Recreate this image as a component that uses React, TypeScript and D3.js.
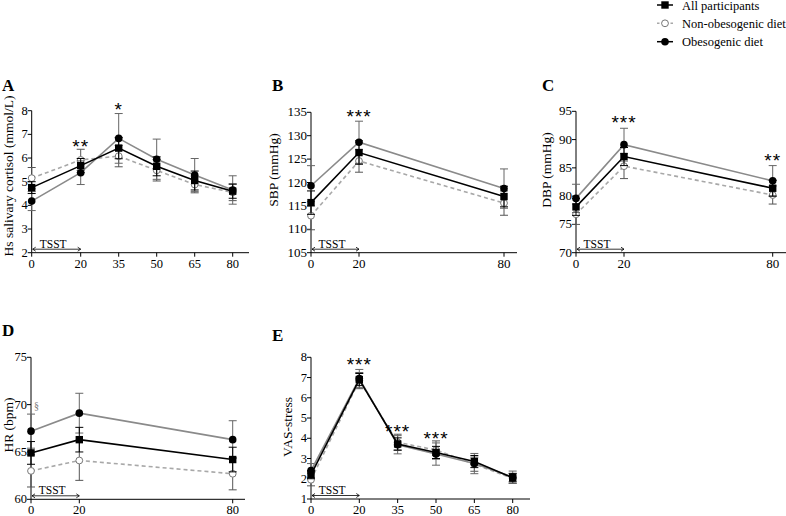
import React from "react";
import * as d3 from "d3";

// ---------- Data ----------
const timesA = [0, 20, 35, 50, 65, 80];
const timesB = [0, 20, 80];

const cortisolObeso = [4.18, 5.38, 6.83, 5.95, 5.28, 4.65];
const cortisolAll = [4.75, 5.68, 6.42, 5.65, 5.05, 4.6];
const cortisolNon = [5.15, 5.92, 6.08, 5.48, 4.88, 4.55];
const cortisolObesoErr = [0.4, 0.5, 1.05, 0.85, 0.7, 0.6];
const cortisolAllErr = [0.25, 0.3, 0.45, 0.4, 0.4, 0.3];
const cortisolNonErr = [0.45, 0.45, 0.45, 0.45, 0.35, 0.35];

const sbpObeso = [119.3, 128.6, 118.7];
const sbpAll = [115.7, 126.4, 117.0];
const sbpNon = [112.9, 124.6, 115.6];
const sbpObesoErr = [4.3, 4.5, 4.2];
const sbpAllErr = [2.5, 2.5, 2.2];
const sbpNonErr = [3.0, 2.4, 2.6];

const dbpObeso = [79.6, 89.1, 82.7];
const dbpAll = [78.1, 87.0, 81.4];
const dbpNon = [76.8, 85.3, 80.2];
const dbpObesoErr = [2.5, 2.9, 2.7];
const dbpAllErr = [1.5, 1.6, 1.4];
const dbpNonErr = [1.8, 2.2, 1.6];

const hrObeso = [67.2, 69.1, 66.3];
const hrAll = [64.9, 66.3, 64.2];
const hrNon = [63.0, 64.1, 62.7];
const hrObesoErr = [1.8, 2.1, 2.0];
const hrAllErr = [1.2, 1.3, 1.3];
const hrNonErr = [1.7, 2.1, 1.7];

const vasObeso = [2.4, 6.95, 3.68, 3.22, 2.75, 2.08];
const vasAll = [2.2, 6.9, 3.72, 3.3, 2.85, 2.05];
const vasNon = [1.95, 6.85, 3.8, 3.42, 2.72, 2.02];
const vasObesoErr = [0.35, 0.45, 0.45, 0.55, 0.5, 0.3];
const vasAllErr = [0.2, 0.3, 0.3, 0.3, 0.3, 0.2];
const vasNonErr = [0.3, 0.4, 0.4, 0.45, 0.35, 0.25];

const legendLabels = ["All participants", "Non-obesogenic diet", "Obesogenic diet"];

// ---------- Styles ----------
const SERIF = "'Liberation Serif', 'Times New Roman', serif";
const SANS = "'Liberation Sans', Arial, sans-serif";
const GREY = "#8a8a8a";
const LIGHT = "#a8a8a8";

type Series = { values: number[]; err: number[]; kind: "all" | "non" | "obeso" };
type Star = { t: number; y: number; text: string };

type PanelProps = {
  letter: string;
  letterX: number;
  letterY: number;
  times: number[];
  xRange: [number, number, number];
  axisEnd: number;
  yDomain: [number, number];
  yRange: [number, number];
  yTicks: number[];
  yLabel: string;
  yLabelX: number;
  yLabelY: number;
  series: Series[];
  stars: Star[];
  tickSize?: number;
  extra?: React.ReactNode;
};

function Marker({ kind, x, y }: { kind: Series["kind"]; x: number; y: number }) {
  if (kind === "all") return <rect x={x - 3.7} y={y - 3.7} width={7.4} height={7.4} fill="#000" />;
  if (kind === "obeso") return <circle cx={x} cy={y} r={3.8} fill="#000" />;
  return <circle cx={x} cy={y} r={3.4} fill="#fff" stroke="#777" strokeWidth={1} />;
}

function lineStyle(kind: Series["kind"]) {
  if (kind === "all") return { stroke: "#000", strokeWidth: 1.6, dash: undefined as string | undefined };
  if (kind === "obeso") return { stroke: GREY, strokeWidth: 1.6, dash: undefined as string | undefined };
  return { stroke: LIGHT, strokeWidth: 1.6, dash: "4,3" };
}

function Panel(p: PanelProps) {
  const x = d3.scaleLinear().domain([0, 20, 80]).range(p.xRange);
  const y = d3.scaleLinear().domain(p.yDomain).range(p.yRange);
  const x0 = x(0);
  const axisY = p.yRange[0];
  const fs = p.tickSize ?? 12.5;
  const line = d3
    .line<number>()
    .x((_, i) => x(p.times[i]))
    .y((v) => y(v));
  const order: Series["kind"][] = ["non", "obeso", "all"];
  const sorted = order.map((k) => p.series.find((s) => s.kind === k)!).filter(Boolean);
  const x20 = x(20);
  return (
    <g>
      <text x={p.letterX} y={p.letterY} fontFamily={SERIF} fontWeight="bold" fontSize={17}>
        {p.letter}
      </text>
      {/* Axes */}
      <line x1={x0} x2={x0} y1={p.yRange[1]} y2={axisY} stroke="#000" strokeWidth={1} />
      <line x1={x0} x2={p.axisEnd} y1={axisY} y2={axisY} stroke="#000" strokeWidth={1} />
      {p.yTicks.map((t) => (
        <g key={"yt" + t}>
          <line x1={x0 - 4} x2={x0} y1={y(t)} y2={y(t)} stroke="#000" />
          <text x={x0 - 4} y={y(t) + 4} textAnchor="end" fontFamily={SERIF} fontSize={fs}>
            {t}
          </text>
        </g>
      ))}
      {p.times.map((t) => (
        <g key={"xt" + t}>
          <line x1={x(t)} x2={x(t)} y1={axisY} y2={axisY + 4} stroke="#000" />
          <text x={x(t)} y={axisY + 15} textAnchor="middle" fontFamily={SERIF} fontSize={fs}>
            {t}
          </text>
        </g>
      ))}
      <text
        transform={`translate(${p.yLabelX},${p.yLabelY}) rotate(-90)`}
        textAnchor="middle"
        fontFamily={SERIF}
        fontSize={13.5}
      >
        {p.yLabel}
      </text>
      {/* TSST arrow */}
      <line x1={x0 + 1} x2={x20} y1={axisY - 3.5} y2={axisY - 3.5} stroke="#000" strokeWidth={0.8} />
      <path d={`M${x0 + 4},${axisY - 5.5} L${x0 + 1},${axisY - 3.5} L${x0 + 4},${axisY - 1.5}`} fill="none" stroke="#000" strokeWidth={0.8} />
      <path d={`M${x20 - 3},${axisY - 5.5} L${x20},${axisY - 3.5} L${x20 - 3},${axisY - 1.5}`} fill="none" stroke="#000" strokeWidth={0.8} />
      <text x={(x0 + x20) / 2 - 3} y={axisY - 5} textAnchor="middle" fontFamily={SERIF} fontSize={11.5}>
        TSST
      </text>
      {/* Series */}
      {sorted.map((s) => {
        const st = lineStyle(s.kind);
        const ebColor = s.kind === "all" ? "#000" : s.kind === "obeso" ? "#666" : "#555";
        return (
          <g key={s.kind}>
            {s.values.map((v, i) => {
              const cx = x(p.times[i]);
              const hi = y(v + s.err[i]);
              const lo = y(v - s.err[i]);
              return (
                <g key={i}>
                  <line x1={cx} x2={cx} y1={hi} y2={lo} stroke={ebColor} strokeWidth={1} />
                  <line x1={cx - 4} x2={cx + 4} y1={hi} y2={hi} stroke={ebColor} strokeWidth={1} />
                  <line x1={cx - 4} x2={cx + 4} y1={lo} y2={lo} stroke={ebColor} strokeWidth={1} />
                </g>
              );
            })}
            <path d={line(s.values) || ""} fill="none" stroke={st.stroke} strokeWidth={st.strokeWidth} strokeDasharray={st.dash} />
            {s.values.map((v, i) => (
              <Marker key={"m" + i} kind={s.kind} x={x(p.times[i])} y={y(v)} />
            ))}
          </g>
        );
      })}
      {p.stars.map((s, i) => (
        <text key={"s" + i} x={x(s.t)} y={s.y + 11} textAnchor="middle" fontFamily={SANS} fontSize={19} letterSpacing={1}>
          {s.text}
        </text>
      ))}
      {p.extra}
    </g>
  );
}

export default function App() {
  const legendY = [5, 23.3, 41.7];
  const kinds: Series["kind"][] = ["all", "non", "obeso"];
  return (
    <svg width={786} height={516} style={{ position: "absolute", left: 0, top: 0, background: "#fff" }}>
      {/* Legend */}
      {kinds.map((k, i) => {
        const st = lineStyle(k);
        return (
          <g key={k}>
            <line x1={657} x2={673} y1={legendY[i]} y2={legendY[i]} stroke={k === "obeso" ? "#000" : st.stroke} strokeWidth={1.5} strokeDasharray={k === "non" ? "2.5,2" : undefined} />
            <Marker kind={k} x={665} y={legendY[i]} />
            <text x={682} y={legendY[i] + 4.5} fontFamily={SERIF} fontSize={12.5}>
              {legendLabels[i]}
            </text>
          </g>
        );
      })}
      <Panel
        letter="A"
        letterX={2}
        letterY={91}
        times={timesA}
        xRange={[31.7, 80.7, 232.7]}
        axisEnd={249}
        yDomain={[2, 8]}
        yRange={[252.7, 110.7]}
        yTicks={[2, 3, 4, 5, 6, 7, 8]}
        yLabel="Hs salivary cortisol (mmol/L)"
        yLabelX={13}
        yLabelY={176}
        series={[
          { kind: "obeso", values: cortisolObeso, err: cortisolObesoErr },
          { kind: "all", values: cortisolAll, err: cortisolAllErr },
          { kind: "non", values: cortisolNon, err: cortisolNonErr },
        ]}
        stars={[
          { t: 20, y: 141.7, text: "**" },
          { t: 35, y: 105, text: "*" },
        ]}
      />
      <Panel
        letter="B"
        letterX={272}
        letterY={91}
        times={timesB}
        xRange={[311, 359, 504]}
        axisEnd={517}
        yDomain={[105, 135]}
        yRange={[252.7, 112.3]}
        yTicks={[105, 110, 115, 120, 125, 130, 135]}
        yLabel="SBP (mmHg)"
        yLabelX={278}
        yLabelY={170}
        tickSize={13}
        series={[
          { kind: "obeso", values: sbpObeso, err: sbpObesoErr },
          { kind: "all", values: sbpAll, err: sbpAllErr },
          { kind: "non", values: sbpNon, err: sbpNonErr },
        ]}
        stars={[{ t: 20, y: 111.7, text: "***" }]}
      />
      <Panel
        letter="C"
        letterX={542}
        letterY={91}
        times={timesB}
        xRange={[576, 624, 772.7]}
        axisEnd={786}
        yDomain={[70, 95]}
        yRange={[252.7, 111.3]}
        yTicks={[70, 75, 80, 85, 90, 95]}
        yLabel="DBP (mmHg)"
        yLabelX={551}
        yLabelY={170}
        tickSize={13}
        series={[
          { kind: "obeso", values: dbpObeso, err: dbpObesoErr },
          { kind: "all", values: dbpAll, err: dbpAllErr },
          { kind: "non", values: dbpNon, err: dbpNonErr },
        ]}
        stars={[
          { t: 20, y: 118, text: "***" },
          { t: 80, y: 156, text: "**" },
        ]}
      />
      <Panel
        letter="D"
        letterX={2}
        letterY={336}
        times={timesB}
        xRange={[31, 79.3, 232.7]}
        axisEnd={245}
        yDomain={[60, 75]}
        yRange={[499.3, 357.3]}
        yTicks={[60, 65, 70, 75]}
        yLabel="HR (bpm)"
        yLabelX={13}
        yLabelY={425}
        series={[
          { kind: "obeso", values: hrObeso, err: hrObesoErr },
          { kind: "all", values: hrAll, err: hrAllErr },
          { kind: "non", values: hrNon, err: hrNonErr },
        ]}
        stars={[]}
        extra={
          <text x={34} y={409} fontFamily={SERIF} fontSize={10} fill="#777">
            §
          </text>
        }
      />
      <Panel
        letter="E"
        letterX={272}
        letterY={341}
        times={timesA}
        xRange={[311, 359.3, 512.7]}
        axisEnd={530}
        yDomain={[1, 8]}
        yRange={[499, 357.3]}
        yTicks={[1, 2, 3, 4, 5, 6, 7, 8]}
        yLabel="VAS-stress"
        yLabelX={292}
        yLabelY={427}
        series={[
          { kind: "obeso", values: vasObeso, err: vasObesoErr },
          { kind: "all", values: vasAll, err: vasAllErr },
          { kind: "non", values: vasNon, err: vasNonErr },
        ]}
        stars={[
          { t: 20, y: 360, text: "***" },
          { t: 35, y: 426.7, text: "***" },
          { t: 50, y: 434.3, text: "***" },
        ]}
      />
    </svg>
  );
}
